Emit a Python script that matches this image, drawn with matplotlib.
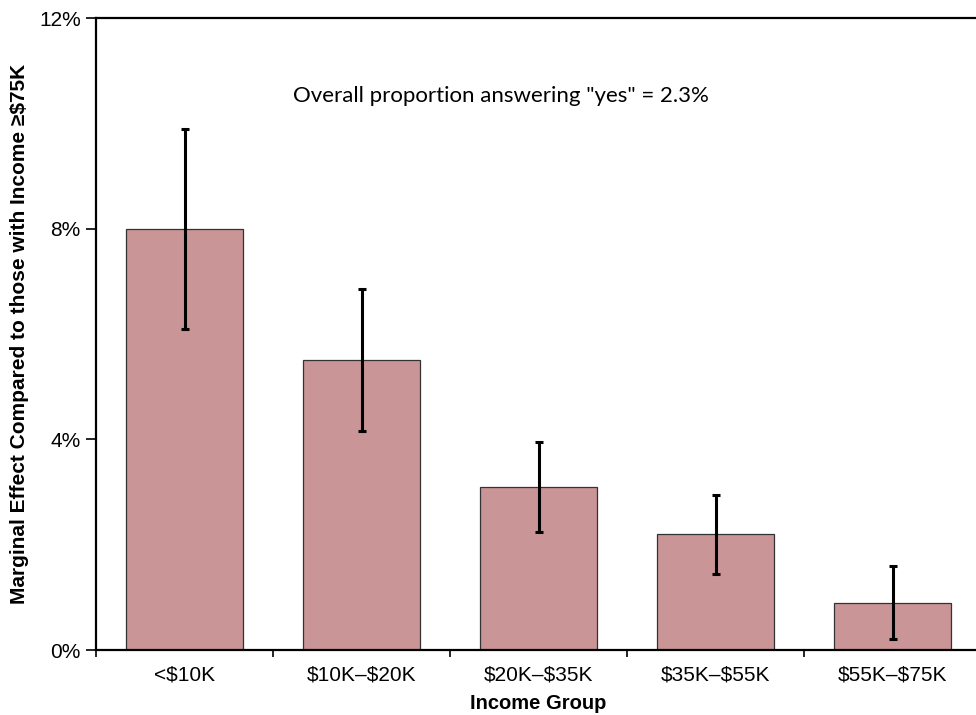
import matplotlib
matplotlib.use("Agg")
import matplotlib.pyplot as plt
from matplotlib.ticker import FuncFormatter, FixedLocator

categories = ["<$10K", "$10K\u2013$20K", "$20K\u2013$35K", "$35K\u2013$55K", "$55K\u2013$75K"]
values = [8.0, 5.5, 3.1, 2.2, 0.9]
err_low = [6.1, 4.15, 2.25, 1.45, 0.2]
err_high = [9.9, 6.85, 3.95, 2.95, 1.6]
yticks = [0, 4, 8, 12]

plt.rcParams['font.family'] = ['Liberation Sans', 'DejaVu Sans']
plt.rcParams['text.parse_math'] = False

fig = plt.figure(figsize=(9.76, 7.15), dpi=100)
ax = fig.add_axes([96/976, 1-650/715, (981-96)/976, (650-18)/715])

x = list(range(len(categories)))
lower = [v - l for v, l in zip(values, err_low)]
upper = [h - v for v, h in zip(values, err_high)]
ax.bar(x, values, width=0.66, color="#C99597", edgecolor="#333333", linewidth=0.9, zorder=2)
ax.errorbar(x, values, yerr=[lower, upper], fmt="none", ecolor="black",
            elinewidth=2.2, capsize=3.2, capthick=2.2, zorder=3)

ax.set_xlim(-0.5, 4.5)
ax.set_ylim(0, 12)
ax.set_yticks(yticks)
ax.yaxis.set_major_formatter(FuncFormatter(lambda v, p: f"{v:.0f}%"))
ax.set_xticks(x)
ax.set_xticklabels(categories, fontsize=15)
ax.tick_params(axis='x', which='major', length=0, pad=11)
ax.xaxis.set_minor_locator(FixedLocator([i + 0.5 for i in range(-1, len(categories))]))
ax.tick_params(axis='x', which='minor', length=5, width=1.2, direction='out')
ax.tick_params(axis='y', length=7, width=1.2, labelsize=15, pad=4)

for s in ['left', 'bottom', 'top']:
    ax.spines[s].set_linewidth(1.6)
ax.spines['right'].set_visible(False)

ax.set_xlabel("Income Group", fontsize=14.5, fontweight='bold', labelpad=7)
ax.set_ylabel("Marginal Effect Compared to those with Income \u2265$75K", fontsize=15,
              fontweight='bold', labelpad=7)

ax.text(1.79, 10.52, 'Overall proportion answering "yes" = 2.3%', ha='center', va='center',
        fontsize=16, family=['Lato', 'DejaVu Sans'])

fig.savefig("out.png", dpi=100)
